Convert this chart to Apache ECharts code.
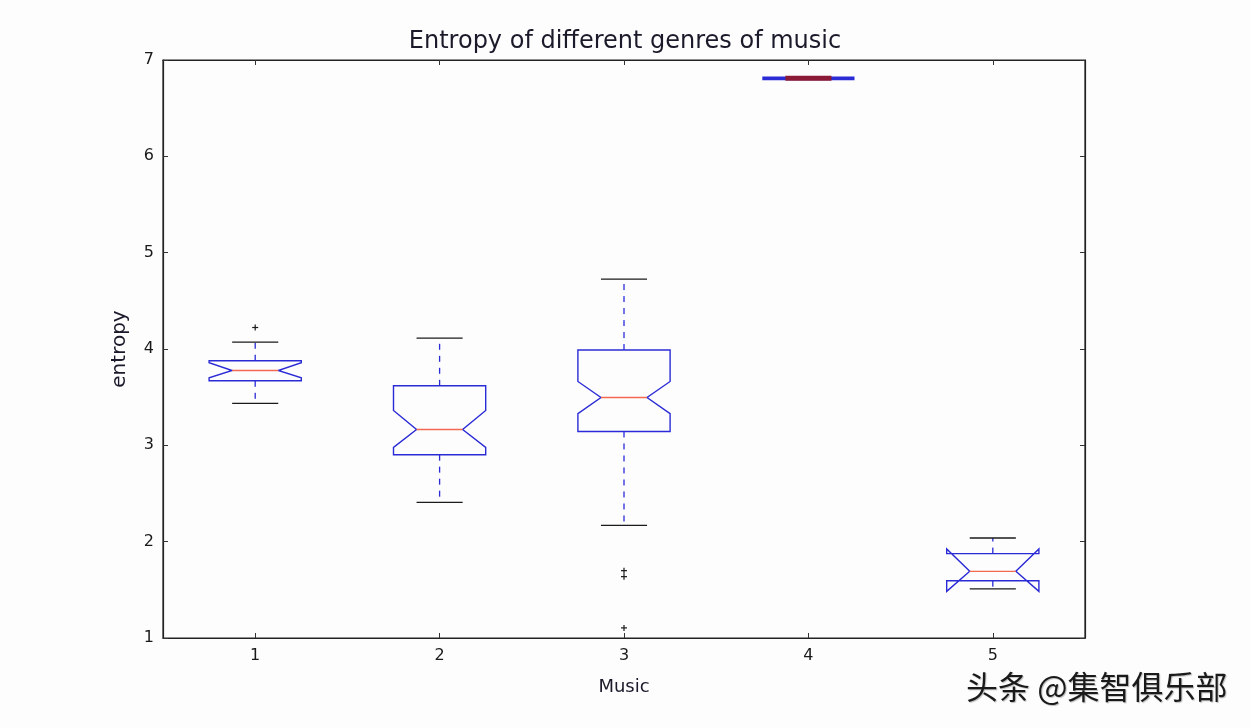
<!DOCTYPE html>
<html><head><meta charset="utf-8">
<script src="https://cdn.jsdelivr.net/npm/echarts@6/dist/echarts.min.js"></script>
<style>html,body{margin:0;padding:0;background:#fdfdfe}#c{width:1250px;height:728px}</style>
</head><body><div id="c"></div>
<script>
// ---- data ----
const categories = ['1', '2', '3', '4', '5'];
const whiskerLow  = [3.435, 2.408, 2.169, 6.81, 1.509];
const q1          = [3.670, 2.903, 3.144, 6.81, 1.595];
const notchLow    = [3.701, 2.978, 3.328, 6.81, 1.484];
const median      = [3.777, 3.165, 3.497, 6.81, 1.692];
const notchHigh   = [3.857, 3.362, 3.663, 6.81, 1.924];
const q3          = [3.878, 3.618, 3.989, 6.81, 1.876];
const whiskerHigh = [4.072, 4.113, 4.725, 6.81, 2.038];
const outlierCategory = [0, 2, 2, 2];
const outlierValue    = [4.223, 1.699, 1.637, 1.105];
const yMin = 1, yMax = 7, yStep = 1;

// ---- chart ----
const FONT = 'DejaVu Sans';
const BLUE = '#2b2bd6';
const boxRows = categories.map((c, i) => [i, whiskerLow[i], q1[i], notchLow[i], median[i], notchHigh[i], q3[i], whiskerHigh[i]]);
const outlierRows = outlierCategory.map((c, i) => [c, outlierValue[i]]);

function renderBox(params, api) {
  const i = api.value(0);
  const cx = api.coord([i, yMin])[0];
  const band = api.size([1, 0])[0];
  const hw = band * 0.25, nw = hw * 0.5, cw = hw * 0.5;
  const Y = k => api.coord([i, api.value(k)])[1];
  const wl = Y(1), b = Y(2), nl = Y(3), m = Y(4), nh = Y(5), t = Y(6), wh = Y(7);
  const flat = Math.abs(b - t) < 0.5;
  const children = [];
  if (!flat) {
    children.push(
      {type: 'line', shape: {x1: cx, y1: b, x2: cx, y2: wl}, style: {stroke: BLUE, lineWidth: 1.3, lineDash: [6, 6]}},
      {type: 'line', shape: {x1: cx, y1: t, x2: cx, y2: wh}, style: {stroke: BLUE, lineWidth: 1.3, lineDash: [6, 6]}},
      {type: 'line', shape: {x1: cx - cw, y1: wl, x2: cx + cw, y2: wl}, style: {stroke: '#1a1a1a', lineWidth: 1.3}},
      {type: 'line', shape: {x1: cx - cw, y1: wh, x2: cx + cw, y2: wh}, style: {stroke: '#1a1a1a', lineWidth: 1.3}}
    );
  }
  children.push(
    {type: 'polygon', shape: {points: [[cx - hw, b], [cx + hw, b], [cx + hw, nl], [cx + nw, m], [cx + hw, nh], [cx + hw, t], [cx - hw, t], [cx - hw, nh], [cx - nw, m], [cx - hw, nl]]},
     style: {fill: 'none', stroke: BLUE, lineWidth: flat ? 3.8 : 1.4, lineJoin: 'miter'}},
    {type: 'line', shape: {x1: cx - nw, y1: m, x2: cx + nw, y2: m},
     style: {stroke: flat ? '#8a1a35' : '#f26a4f', lineWidth: flat ? 5 : 1.4}}
  );
  return {type: 'group', children};
}

function renderOutlier(params, api) {
  const p = api.coord([api.value(0), api.value(1)]);
  const s = 3;
  return {type: 'group', children: [
    {type: 'line', shape: {x1: p[0] - s, y1: p[1], x2: p[0] + s, y2: p[1]}, style: {stroke: '#1a1a1a', lineWidth: 1.2}},
    {type: 'line', shape: {x1: p[0], y1: p[1] - s, x2: p[0], y2: p[1] + s}, style: {stroke: '#1a1a1a', lineWidth: 1.2}}
  ]};
}

const chart = echarts.init(document.getElementById('c'), null, {renderer: 'canvas'});
const tickStyle = {show: true, inside: true, length: 5, lineStyle: {color: '#333', width: 1}};
chart.setOption({
  backgroundColor: '#fdfdfe',
  animation: false,
  title: {
    text: 'Entropy of different genres of music', left: 'center', top: 30, padding: 0,
    textStyle: {fontFamily: FONT, fontSize: 24, fontWeight: 'normal', color: '#1a1a2a'}
  },
  grid: {left: 163, right: 165, top: 60, bottom: 90, show: true, borderColor: '#222', borderWidth: 1.2, backgroundColor: 'transparent'},
  xAxis: [{
    type: 'category', data: categories, boundaryGap: true, position: 'bottom',
    name: 'Music', nameLocation: 'middle', nameGap: 40,
    nameTextStyle: {fontFamily: FONT, fontSize: 18, color: '#1a1a2a'},
    axisLine: {show: true, lineStyle: {color: '#222', width: 1.2}},
    axisTick: Object.assign({alignWithLabel: true}, tickStyle),
    axisLabel: {fontFamily: FONT, fontSize: 16, color: '#1a1a1a', margin: 10},
    splitLine: {show: false}
  }, {
    type: 'category', data: categories, boundaryGap: true, position: 'top',
    axisLine: {show: true, lineStyle: {color: '#222', width: 1.2}},
    axisTick: Object.assign({alignWithLabel: true}, tickStyle),
    axisLabel: {show: false}, splitLine: {show: false}
  }],
  yAxis: [{
    type: 'value', min: yMin, max: yMax, interval: yStep, position: 'left',
    name: 'entropy', nameLocation: 'middle', nameGap: 33,
    nameTextStyle: {fontFamily: FONT, fontSize: 20, color: '#1a1a2a'},
    axisLine: {show: true, lineStyle: {color: '#222', width: 1.2}},
    axisTick: tickStyle,
    axisLabel: {fontFamily: FONT, fontSize: 16, color: '#1a1a1a', margin: 9},
    splitLine: {show: false}
  }, {
    type: 'value', min: yMin, max: yMax, interval: yStep, position: 'right',
    axisLine: {show: true, lineStyle: {color: '#222', width: 1.2}},
    axisTick: tickStyle, axisLabel: {show: false}, splitLine: {show: false}
  }],
  series: [{
    type: 'custom', xAxisIndex: 0, yAxisIndex: 0, renderItem: renderBox,
    encode: {x: 0, y: [1, 2, 3, 4, 5, 6, 7]}, data: boxRows, z: 3
  }, {
    type: 'custom', xAxisIndex: 0, yAxisIndex: 0, renderItem: renderOutlier,
    encode: {x: 0, y: 1}, data: outlierRows, z: 4
  }],
  graphic: [{
    type: 'text', left: 966, top: 671,
    style: {text: '头条 @集智俱乐部', font: '32px "Noto Sans CJK SC"', fill: '#1a1a1a',
            textShadowColor: 'rgba(0,0,0,0.25)', textShadowOffsetX: 1, textShadowOffsetY: 1, textShadowBlur: 1}
  }]
});
</script></body></html>
